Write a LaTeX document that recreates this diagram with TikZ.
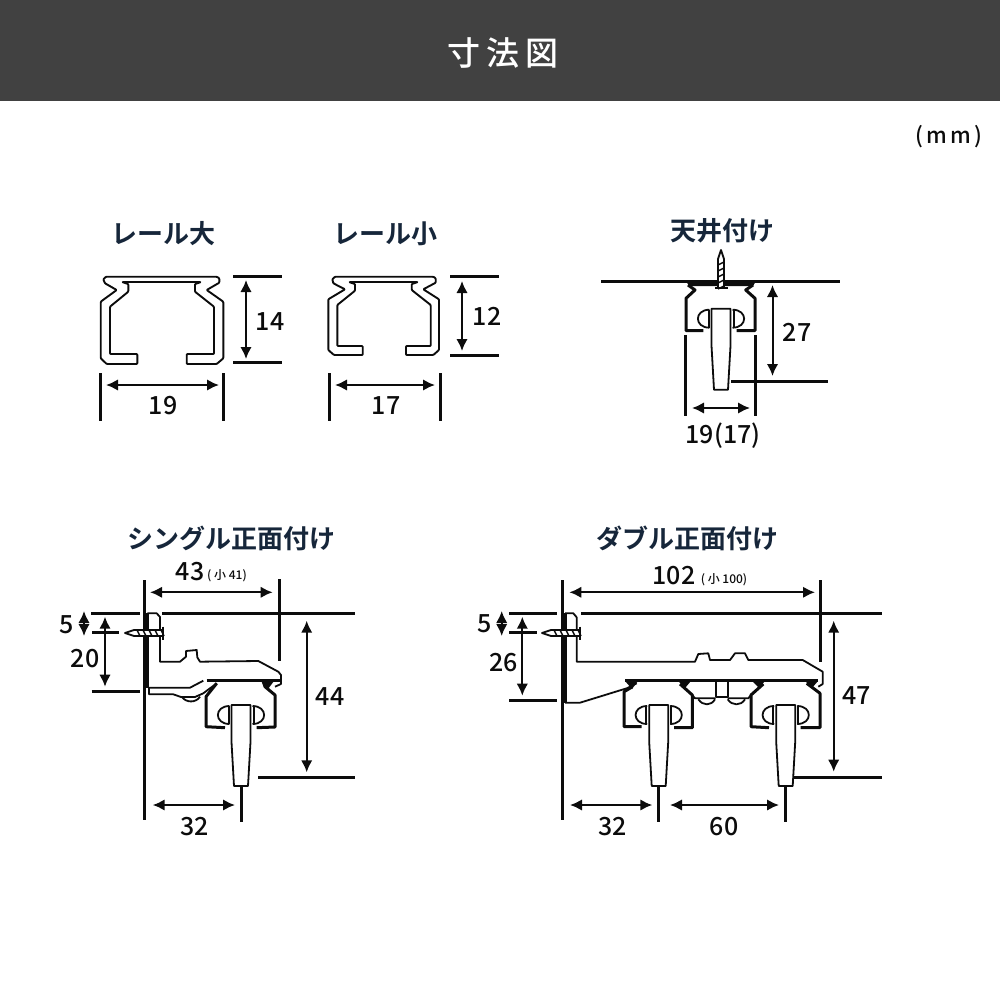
\documentclass[tikz,border=0pt]{standalone}
\usepackage{fontspec}
\setmainfont{Noto Sans CJK JP Medium}
\newfontfamily\headfont{Noto Sans CJK JP Bold}
\usetikzlibrary{arrows.meta}
\definecolor{headgray}{HTML}{414141}
\definecolor{titlenavy}{HTML}{16263A}
\definecolor{inkblack}{HTML}{0C0C0C}
\tikzset{
	guide/.style={draw=inkblack,line width=3pt},
	dimarrow/.style={draw=inkblack,line width=2pt,{Latex[length=12pt,width=11.5pt]}-{Latex[length=12pt,width=11.5pt]}},
	railline/.style={draw=inkblack,line width=1.9pt,line join=round},
	legline/.style={draw=inkblack,line width=3pt,line join=round},
	partline/.style={draw=inkblack,line width=1.8pt,line join=round},
	numlabel/.style={text=inkblack,font=\fontsize{25}{25}\selectfont,inner sep=0pt},
	smalllabel/.style={text=inkblack,font=\fontsize{12}{12}\selectfont,inner sep=0pt},
	headlabel/.style={text=titlenavy,font=\headfont\fontsize{26}{26}\selectfont,inner sep=0pt}
}
% runner with its two wheels, origin at middle of the top edge
\newcommand{\hanger}[2]{
\begin{scope}[shift={(#1,#2)}]
\draw [partline,fill=white] (-9.5,0) -- (9.5,0) -- (9.5,37) -- (7,81) -- (-7,81) -- (-9.5,37) -- cycle;
\foreach \s in {-1,1} {
	\draw [partline,fill=white] (\s*11.5,1) .. controls (\s*27,1) and (\s*27,19) .. (\s*11.5,19);
	\draw [line width=2pt,inkblack] (\s*12.5,1) -- (\s*12.5,19);
}
\end{scope}
}
% screw, origin at middle of the head, tip along -x before rotation
\newcommand{\screw}[3]{
\begin{scope}[shift={(#1,#2)},rotate=#3]
\draw [partline,fill=white] (-38,0) -- (-29,-3) -- (0,-3) -- (0,3) -- (-29,3) -- cycle;
\foreach \x in {-26,-20,-14,-8,-2}
	\draw [line width=1.5pt,inkblack] (\x,-3) -- (\x+3,3);
\draw [line width=2.6pt,inkblack] (0,-6.5) -- (0,6.5);
\end{scope}
}
\begin{document}
\begin{tikzpicture}[x=1pt,y=-1pt]
\useasboundingbox (0,0) rectangle (1000,1000);
\fill [headgray] (0,0) rectangle (1000,101);
\node [text=white,font=\fontsize{33}{33}\selectfont\addfontfeature{LetterSpace=18}] (maintitle) at (503,53) {寸法図};
\node [text=inkblack,font=\fontsize{22}{22}\selectfont\addfontfeature{LetterSpace=14},inner sep=0pt] (unitlabel) at (949,137) {(mm)};

% large rail
\node [headlabel] (bigtitle) at (163,234) {レール大};
\draw [railline,rounded corners=0.8pt] (106,276.7) -- (103.3,279.3) -- (105,283.3) -- (116.7,290) -- (100.7,301.7) -- (100.7,358.3) -- (106.7,364) -- (137.3,364) -- (137.3,354) -- (110,354) -- (110,306.7) -- (128.3,291.7) -- (128.3,284) -- (122,282) -- (201,282) -- (195,284) -- (195,291.7) -- (214,306.7) -- (214,354) -- (186.7,354) -- (186.7,364) -- (216.7,364) -- (223.3,358.3) -- (223.3,301.7) -- (206.7,290) -- (219.3,282.7) -- (219.3,278.3) -- (216.7,276.7) -- cycle;
\draw [guide] (233,276.7) -- (282,276.7);
\draw [guide] (233,362) -- (282,362);
\draw [dimarrow] (246,280) -- (246,359);
\node [numlabel] (bigheight) at (270,322) {14};
\draw [guide] (100.5,373) -- (100.5,421);
\draw [guide] (223,373) -- (223,421);
\draw [dimarrow] (106,385) -- (219,385);
\node [numlabel] (bigwidth) at (163,406) {19};

% small rail
\node [headlabel] (smalltitle) at (385,234) {レール小};
\draw [railline,rounded corners=0.8pt] (335,276.7) -- (332.3,279.3) -- (333.3,283.3) -- (345,289.3) -- (328.3,299.3) -- (328.3,350) -- (334,355) -- (362.7,355) -- (362.7,346) -- (337.3,346) -- (337.3,305) -- (355,290.7) -- (355,284) -- (349,282) -- (418,282) -- (411.7,284) -- (411.7,290) -- (430.7,305) -- (430.7,346) -- (406,346) -- (406,355) -- (433.3,355) -- (439,350) -- (439,299.3) -- (423.3,289.3) -- (435.7,282.7) -- (435.7,278.3) -- (433.3,276.7) -- cycle;
\draw [guide] (450,276.7) -- (499,276.7);
\draw [guide] (450,355.5) -- (499,355.5);
\draw [dimarrow] (462,281) -- (462,351);
\node [numlabel] (smallheight) at (487,316) {12};
\draw [guide] (329.5,373) -- (329.5,421);
\draw [guide] (440,373) -- (440,421);
\draw [dimarrow] (335,385) -- (435,385);
\node [numlabel] (smallwidth) at (386,406) {17};

% ceiling mount
\node [headlabel] (ceiltitle) at (722,231) {天井付け};
\draw [guide] (601,281) -- (840,281);
\fill [inkblack] (686,281) -- (756,281) -- (753,286) -- (689,286) -- cycle;
\draw [legline] (688,285) -- (695,290) -- (686,298.3) -- (686,330.7) -- (703.3,330.7);
\draw [legline] (753,285) -- (745.7,290) -- (755,298.3) -- (755,330.7) -- (736.7,330.7);
\screw{721}{288}{-90}
\hanger{721}{308.7}
\draw [guide] (685.5,335) -- (685.5,416);
\draw [guide] (755,335) -- (755,416);
\draw [guide] (731,381) -- (828,381);
\draw [dimarrow] (692,408) -- (750,408);
\draw [dimarrow] (772.5,285) -- (772.5,376);
\node [numlabel] (ceilheight) at (797,332) {27};
\node [numlabel] (ceilwidth) at (723,436) {19(17)};

% single front mount
\node [headlabel] (singletitle) at (231,538) {シングル正面付け};
\draw [guide] (144.5,580) -- (144.5,820);
\draw [guide] (91,613.3) -- (140,613.3);
\draw [guide] (162.3,613.3) -- (355,613.3);
\draw [guide] (279,579.3) -- (279,661);
\draw [guide] (92.3,632.3) -- (119.3,632.3);
\draw [guide] (91.7,691.7) -- (140,691.7);
\draw [guide] (258.3,777.3) -- (355,777.3);
\draw [partline,fill=white] (147.3,613.3) -- (156.7,613.3) -- (160,617) -- (160,661.7) -- (180,661.7) -- (186,656.7) -- (186,651) -- (196.7,650) -- (197.3,657.3) -- (200,661.7) -- (258.3,661) -- (278.3,671.7) -- (281,675) -- (281,684) -- (275,686.7);
\draw [line width=3.4pt,inkblack] (147.5,613.3) -- (147.5,688);
\draw [legline] (206.7,680) -- (280,680);
\draw [partline] (148.3,687.7) -- (190,687.7) -- (203.3,680.7);
\draw [partline] (149,687.7) -- (149,694.3) -- (173.3,694.3) -- (181,697) -- (195,697) -- (203.3,693.3) -- (216.7,683.3);
\draw [partline] (181.7,696.7) .. controls (186,703) and (196,703) .. (200,696.7);
\draw [legline] (216.7,683.3) -- (206,696.7) -- (206,726.7) -- (225,727.7);
\draw [legline] (263.3,681.7) -- (265,686.7) -- (275,695) -- (275,727) -- (256.7,727.7);
\fill [inkblack] (261,681) -- (274,681) -- (268,689) -- cycle;
\screw{163}{633}{0}
\hanger{241}{705}
\draw [guide] (241.7,786) -- (241.7,821.7);
\draw [dimarrow] (150,592.3) -- (272.7,592.3);
\draw [dimarrow] (84,611) -- (84,636);
\draw [dimarrow] (105,616.7) -- (105,686.7);
\draw [dimarrow] (152.7,805) -- (235,805);
\draw [dimarrow] (306.7,620.7) -- (306.7,772.3);
\node [numlabel] (singletop) at (190,572) {43};
\node [smalllabel] (singlesmall) at (227,576) {( 小 41)};
\node [numlabel] (singlefive) at (67,625) {5};
\node [numlabel] (singledrop) at (85,659) {20};
\node [numlabel] (singlepin) at (194.3,827) {32};
\node [numlabel] (singleheight) at (330,697) {44};

% double front mount
\node [headlabel] (doubletitle) at (687,538) {ダブル正面付け};
\draw [guide] (562.3,580) -- (562.3,820);
\draw [guide] (509,613.3) -- (557.3,613.3);
\draw [guide] (581,613.3) -- (881.7,613.3);
\draw [guide] (820.3,580) -- (820.3,661.7);
\draw [guide] (509.3,632.7) -- (536.7,632.7);
\draw [guide] (509,700.7) -- (557.3,700.7);
\draw [guide] (794,777.3) -- (881.7,777.3);
\draw [partline] (565,613.3) -- (573.3,613.3) -- (576.7,617.3) -- (576.7,661.7) -- (695,661.7) -- (698.3,654) -- (708.3,653.3) -- (710,660) -- (730,660) -- (735,653.3) -- (745,653.3) -- (748.3,660) -- (802.7,660) -- (822.7,671.7) -- (822.7,684) -- (818.3,686.7);
\draw [line width=3.4pt,inkblack] (565,613.3) -- (565,702.7);
\draw [legline] (625,680) -- (818.3,680);
\draw [partline] (565,702.7) -- (580,702.7) -- (626.7,688.3) -- (636.7,683.3);
\fill [inkblack] (625,681) -- (638,681) -- (632,689) -- cycle;
\draw [legline] (632,687) -- (624,691.7) -- (624,726.7) -- (641.7,726.7);
\draw [legline] (680,684) -- (692.3,695) -- (692.3,727.7) -- (674,727.7);
\draw [legline] (763.3,684) -- (751,695) -- (751,726.7) -- (769,727.7);
\draw [legline] (806.7,683.3) -- (820,693.3) -- (820,727.7) -- (800.7,727.7);
\foreach \x in {805,678,752}
	\fill [inkblack] (\x,681) -- (\x+13,681) -- (\x+7,688) -- cycle;
\draw [partline] (692.3,695) -- (695,698.3) -- (715.7,698.3);
\draw [partline] (751,695) -- (748.3,698.3) -- (727.7,698.3);
\draw [partline] (715.7,680) -- (715.7,697.3) -- (727.7,697.3) -- (727.7,680);
\draw [partline] (698.3,699.3) .. controls (703,706) and (711,706) .. (715,699.3);
\draw [partline] (727.7,699.3) .. controls (732,706) and (741,706) .. (745,699.3);
\screw{580}{633}{0}
\foreach \x in {658.7,785.7} {
	\hanger{\x}{705}
	\draw [guide] (\x,786) -- (\x,821.7);
}
\draw [dimarrow] (569.3,592.3) -- (815,592.3);
\draw [dimarrow] (501.7,611) -- (501.7,636);
\draw [dimarrow] (522.3,616.7) -- (522.3,695.7);
\draw [dimarrow] (570,805) -- (652.3,805);
\draw [dimarrow] (670,805) -- (779,805);
\draw [dimarrow] (833.7,620.7) -- (833.7,771.7);
\node [numlabel] (doubletop) at (674,576) {102};
\node [smalllabel] (doublesmall) at (724,579.5) {( 小 100)};
\node [numlabel] (doublefive) at (485,624) {5};
\node [numlabel] (doubledrop) at (503.3,662.7) {26};
\node [numlabel] (doublepin) at (612.7,827) {32};
\node [numlabel] (doublegap) at (724,827) {60};
\node [numlabel] (doubleheight) at (856.7,696) {47};
\end{tikzpicture}
\end{document}
